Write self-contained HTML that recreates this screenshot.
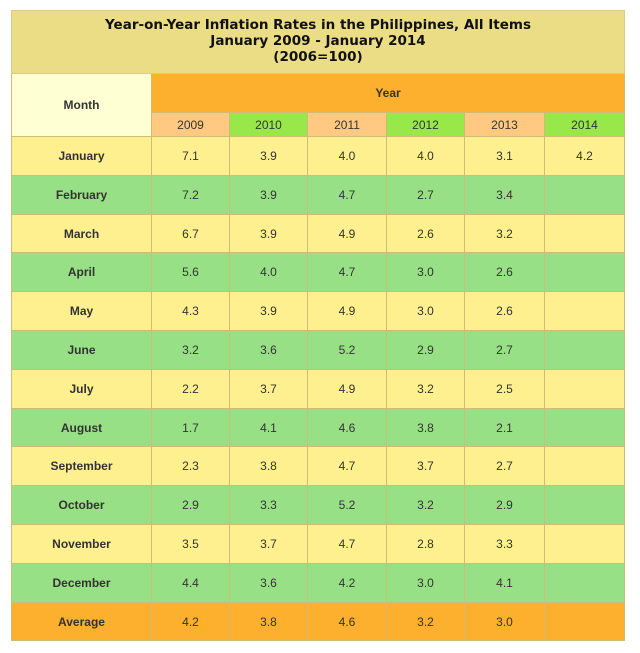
<!DOCTYPE html>
<html><head><style>
body{margin:0;background:#fff;width:640px;height:653px;position:relative;font-family:"Liberation Sans",Arial,sans-serif;}
.c{position:absolute;box-sizing:border-box;display:flex;align-items:center;justify-content:center;font-size:12px;color:#333;border-right:1px solid #cdbd78;border-bottom:1px solid #cdbd78;}
.t{position:absolute;left:11px;top:10px;width:614px;height:64px;background:#ebdd86;border:1px solid #d8cc88;box-sizing:border-box;text-align:center;font-weight:bold;font-size:13.5px;line-height:16px;color:#111;padding-top:6px;font-family:"DejaVu Sans",sans-serif;}
.b{font-weight:bold;color:#333;}
.l{border-left:1px solid #cdbd78;}
</style></head><body>
<div class="t">Year-on-Year Inflation Rates in the Philippines, All Items<br>January 2009 - January 2014<br>(2006=100)</div>
<div id="g"></div>
<script>
var X=[11,152,230,308,387,465,545,625];
var h='';
function cell(x0,x1,y0,y1,bg,txt,cls){h+='<div class="c '+(cls||'')+'" style="left:'+x0+'px;top:'+y0+'px;width:'+(x1-x0)+'px;height:'+(y1-y0)+'px;background:'+bg+'">'+txt+'</div>';}
cell(11,152,74,137,'#ffffd4','Month','b l');
cell(152,625,74,113,'#fdb02e','Year','b');
var yrs=['2009','2010','2011','2012','2013','2014'];
for(var i=0;i<6;i++)cell(X[i+1],X[i+2],113,137,i%2?'#99e84a':'#ffc982',yrs[i]);
var rows=[['January','7.1','3.9','4.0','4.0','3.1','4.2'],['February','7.2','3.9','4.7','2.7','3.4',''],['March','6.7','3.9','4.9','2.6','3.2',''],['April','5.6','4.0','4.7','3.0','2.6',''],['May','4.3','3.9','4.9','3.0','2.6',''],['June','3.2','3.6','5.2','2.9','2.7',''],['July','2.2','3.7','4.9','3.2','2.5',''],['August','1.7','4.1','4.6','3.8','2.1',''],['September','2.3','3.8','4.7','3.7','2.7',''],['October','2.9','3.3','5.2','3.2','2.9',''],['November','3.5','3.7','4.7','2.8','3.3',''],['December','4.4','3.6','4.2','3.0','4.1',''],['Average','4.2','3.8','4.6','3.2','3.0','']];
for(var r=0;r<13;r++){var y0=137+Math.round(r*38.8),y1=137+Math.round((r+1)*38.8);
var bg=r==12?'#fdaf2e':(r%2?'#98e085':'#fff08f');
for(var c=0;c<7;c++)cell(X[c],X[c+1],y0,y1,bg,rows[r][c],c==0?'b l':'');}
document.getElementById('g').innerHTML=h;
</script>
</body></html>
